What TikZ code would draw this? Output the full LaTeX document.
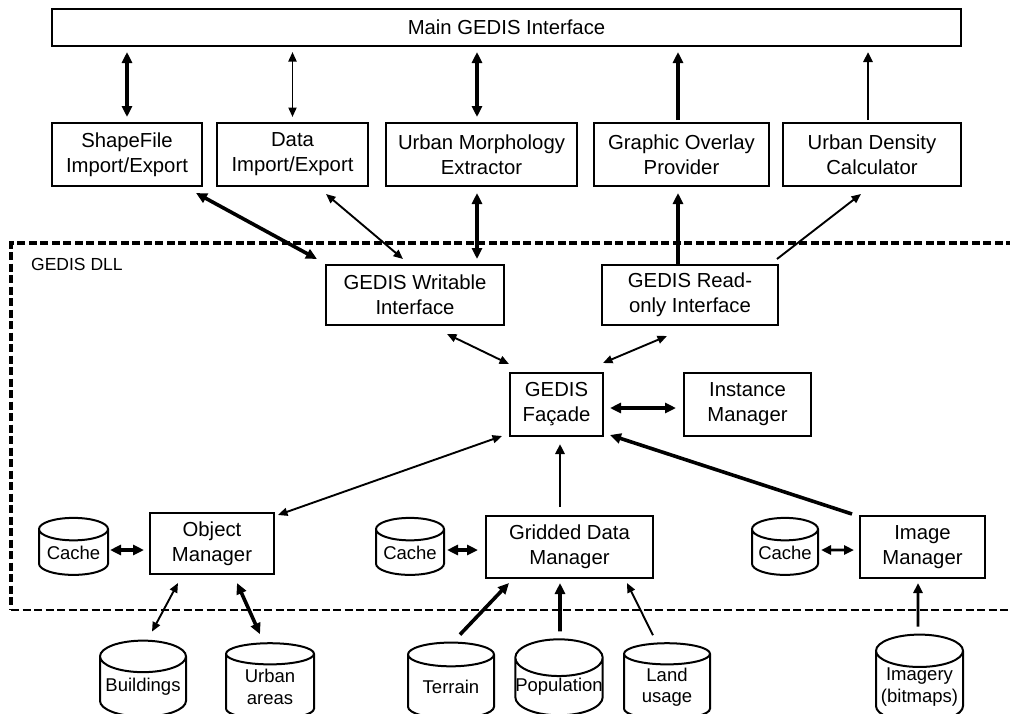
\documentclass[tikz,border=0pt]{standalone}
\usepackage{fontspec}
\setmainfont{Liberation Sans}
\usetikzlibrary{arrows.meta,shapes.geometric}

\tikzset{
  box/.style={draw, line width=2pt, fill=white, align=center, inner sep=0pt,
    font=\fontsize{20.3}{25}\selectfont},
  db/.style={shape=cylinder, draw, line width=2pt, shape border rotate=90, aspect=0.42,
    align=center, inner sep=0pt, font=\fontsize{18.5}{21.5}\selectfont},
  fat/.style={line width=3.6pt, >={Triangle[length=11pt,width=10pt]}},
  mid/.style={line width=2.7pt, >={Triangle[length=10pt,width=9pt]}},
  slim/.style={line width=1.9pt, >={Triangle[length=9.5pt,width=8pt]}},
  frame/.style={dash pattern=on 8pt off 3.5pt}
}

\begin{document}
\begin{tikzpicture}[x=1pt,y=-1pt]
  \useasboundingbox (0,0) rectangle (1010,713);

  % dll frame
  \draw[frame, line width=3.2pt] (1014,243) -- (11,243) -- (11,610);
  \draw[frame, line width=2.4pt] (11,610) -- (1014,610);
  \node[anchor=west, inner sep=0pt, font=\fontsize{17.5}{20}\selectfont] (dll) at (31,264.5) {GEDIS DLL};

  % top
  \node[box, minimum width=909, minimum height=37] (main) at (506.5,27.5) {Main GEDIS Interface};
  \node[box, minimum width=150, minimum height=63] (sf) at (127,154.5) {ShapeFile\\Import/Export};
  \node[box, minimum width=151, minimum height=63] (data) at (292.5,154.5) {Data\\Import/Export};
  \node[box, minimum width=191, minimum height=63] (morph) at (481.5,154.5) {Urban Morphology\\Extractor};
  \node[box, minimum width=175, minimum height=63] (overlay) at (681.5,154.5) {Graphic Overlay\\Provider};
  \node[box, minimum width=178, minimum height=63] (density) at (872,154.5) {Urban Density\\Calculator};

  % interfaces and facade
  \node[box, minimum width=178, minimum height=60] (wr) at (415,295) {GEDIS Writable\\Interface};
  \node[box, minimum width=176, minimum height=60] (ro) at (690,295) {GEDIS Read-\\only Interface};
  \node[box, minimum width=93, minimum height=63] (facade) at (556.5,404.5) {GEDIS\\Façade};
  \node[box, minimum width=127, minimum height=63] (inst) at (747.5,404.5) {Instance\\Manager};

  % managers
  \node[box, minimum width=124, minimum height=61] (objm) at (212,543.5) {Object\\Manager};
  \node[box, minimum width=167, minimum height=62] (gridm) at (569.5,547) {Gridded Data\\Manager};
  \node[box, minimum width=125, minimum height=62] (imgm) at (922.5,547) {Image\\Manager};
  \node[db, minimum width=69, minimum height=57] (cache1) at (73.5,552.5) {Cache};
  \node[db, minimum width=68, minimum height=57] (cache2) at (410,552.5) {Cache};
  \node[db, minimum width=66, minimum height=57] (cache3) at (785,552.5) {Cache};

  % data sources
  \node[db, minimum width=86, minimum height=76] (bld) at (143,687) {Buildings};
  \node[db, minimum width=88, minimum height=76] (urb) at (270,687) {Urban\\areas};
  \node[db, minimum width=86, minimum height=76] (ter) at (451,687) {Terrain};
  \node[db, minimum width=86, minimum height=76] (pop) at (559,687) {Population};
  \node[db, minimum width=86, minimum height=76] (land) at (667,687) {Land\\usage};
  \node[db, minimum width=87, minimum height=76] (img) at (919.5,687) {Imagery\\(bitmaps)};

  % links to main
  \draw[fat, <->, shorten <=5pt, shorten >=5pt] (sf.north |- main.south) -- (sf.north);
  \draw[slim, <->, shorten <=5pt, shorten >=5pt] (data.north |- main.south) -- (data.north);
  \draw[fat, <->, shorten <=5pt, shorten >=5pt] ([xshift=-4.5]morph.north |- main.south) -- ([xshift=-4.5]morph.north);
  \draw[fat, ->, shorten <=2pt, shorten >=5pt] ([xshift=-3.5]overlay.north) -- ([xshift=-3.5]overlay.north |- main.south);
  \draw[mid, ->, shorten <=2pt, shorten >=5pt] ([xshift=-4]density.north) -- ([xshift=-4]density.north |- main.south);

  % interfaces to tools
  \draw[fat, <->] ([xshift=-7,yshift=-6]sf.south east) -- ([xshift=-8,yshift=5]wr.north west);
  \draw[slim, <->] ([xshift=33.5,yshift=-7]data.south) -- ([xshift=-12,yshift=5]wr.north);
  \draw[fat, <->] ([xshift=-4.5,yshift=-6]morph.south) -- ([xshift=62,yshift=5]wr.north);
  \draw[fat, ->] ([xshift=-12]ro.north) -- ([xshift=-3.5,yshift=-6]overlay.south);
  \draw[slim, ->] ([xshift=-2,yshift=5]ro.north east) -- ([xshift=-11,yshift=-7]density.south);

  % facade
  \draw[slim, <->] ([xshift=32,yshift=-8]wr.south) -- ([yshift=8]facade.north west);
  \draw[slim, <->] ([xshift=-23,yshift=-10]ro.south) -- ([xshift=-1,yshift=9]facade.north east);
  \draw[fat, <->] ([xshift=6,yshift=-3.5]facade.east) -- ([xshift=-7,yshift=-3.5]inst.west);
  \draw[slim, <->] ([xshift=3,yshift=-3]objm.north east) -- ([xshift=-7,yshift=1]facade.south west);
  \draw[mid, ->] ([xshift=-9.5,yshift=8]gridm.north) -- ([xshift=3.5,yshift=-7]facade.south);
  \draw[fat, ->] ([xshift=-7,yshift=1]imgm.north west) -- ([xshift=6,yshift=2]facade.south east);

  % caches
  \draw[fat, <->] ([xshift=1,yshift=2.5]cache1.east) -- ([xshift=-5,yshift=-6.5]objm.west);
  \draw[fat, <->] ([xshift=2,yshift=2.5]cache2.east) -- ([xshift=-7,yshift=-3]gridm.west);
  \draw[mid, <->] ([xshift=2,yshift=2.5]cache3.east) -- ([xshift=-5,yshift=-3]imgm.west);

  % sources
  \draw[slim, <->] ([xshift=9,yshift=8]bld.north) -- ([xshift=-34,yshift=-8]objm.south);
  \draw[fat, <->] ([xshift=-10,yshift=8]urb.north) -- ([xshift=25,yshift=-8]objm.south);
  \draw[fat, ->] ([xshift=9,yshift=7]ter.north) -- ([xshift=24,yshift=-4]gridm.south west);
  \draw[fat, ->] ([xshift=1,yshift=7]pop.north) -- ([xshift=-9.5,yshift=-4]gridm.south);
  \draw[slim, ->] ([xshift=-14,yshift=7]land.north) -- ([xshift=-27,yshift=-4]gridm.south east);
  \draw[mid, ->] ([xshift=-1.5,yshift=7]img.north) -- ([xshift=-4.5,yshift=-4]imgm.south);
\end{tikzpicture}
\end{document}
